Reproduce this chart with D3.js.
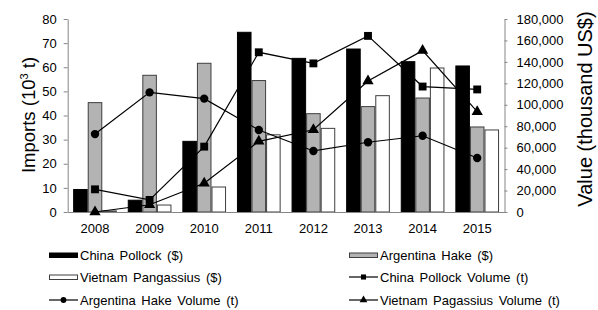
<!DOCTYPE html>
<html><head><meta charset="utf-8">
<script src="https://cdn.jsdelivr.net/npm/d3@7"></script>
<style>
body{margin:0;background:#fff}
svg{display:block}
text{font-family:"Liberation Sans",Arial,sans-serif;fill:#000}
</style>
</head><body><svg id="c" width="598" height="310"></svg>
<script>
const years = ["2008","2009","2010","2011","2012","2013","2014","2015"];
const chinaPollockValue = [21000, 11000, 65900, 167600, 143300, 152000, 140200, 136200];
const argentinaHakeValue = [102000, 127500, 138700, 122600, 91700, 98300, 106300, 79300];
const vietnamPangassiusValue = [1000, 6500, 23300, 72000, 78000, 108500, 134300, 76500];
const chinaPollockVolume = [9.4, 5.0, 27.1, 66.2, 61.6, 73.0, 52.0, 50.8];
const argentinaHakeVolume = [32.3, 49.6, 47.0, 34.0, 25.3, 28.9, 31.6, 22.4];
const vietnamPagassiusVolume = [0, 3.0, 11.9, 29.3, 34.1, 54.3, 66.9, 41.6];
const leftTicks = [0,10,20,30,40,50,60,70,80];
const rightTicks = [0,20000,40000,60000,80000,100000,120000,140000,160000,180000];
const barSeries = ["China Pollock ($)","Argentina Hake ($)","Vietnam Pangassius ($)"];
const lineSeries = ["China Pollock Volume (t)","Argentina Hake Volume (t)","Vietnam Pagassius Volume (t)"];

const svg = d3.select("#c");
const L = 67.7, R = 504.5, T = 19, B = 212;
const x = d3.scaleBand().domain(years).range([L, R]).paddingInner(0.2).paddingOuter(0.1);
const xs = d3.scaleBand().domain(barSeries).range([0, x.bandwidth()]);
const yL = d3.scaleLinear().domain([0, 80]).range([B, T]);
const yR = d3.scaleLinear().domain([0, 180000]).range([B, T]);
const axisColor = "#868686";

const barData = [chinaPollockValue, argentinaHakeValue, vietnamPangassiusValue];
const barFill = ["#000000", "#b3b3b3", "#ffffff"];
const barStroke = ["#000000", "#3f3f3f", "#3f3f3f"];

barSeries.forEach((s, i) => {
  svg.append("g").selectAll("rect").data(years).join("rect")
    .attr("x", d => x(d) + xs(s) + 0.5)
    .attr("width", xs.bandwidth() - 1)
    .attr("y", (d, j) => yR(barData[i][j]))
    .attr("height", (d, j) => B - yR(barData[i][j]))
    .attr("fill", barFill[i])
    .attr("stroke", barStroke[i])
    .attr("stroke-width", 1);
});

// axes
const gL = svg.append("g").attr("transform", `translate(${L},0)`)
  .call(d3.axisLeft(yL).tickValues(leftTicks).tickSize(4).tickSizeOuter(0).tickPadding(7));
const gR = svg.append("g").attr("transform", `translate(${R},0)`)
  .call(d3.axisRight(yR).tickValues(rightTicks).tickFormat(d3.format(",")).tickSize(3).tickSizeOuter(0).tickPadding(9));
[gL, gR].forEach(g => {
  g.select(".domain").attr("stroke", axisColor);
  g.selectAll(".tick line").attr("stroke", axisColor);
  g.selectAll(".tick text").attr("font-size", 13).attr("font-family", "Liberation Sans, Arial, sans-serif").attr("fill", "#000");
});
const gB = svg.append("g").attr("transform", `translate(0,${B})`)
  .call(d3.axisBottom(x).tickSize(0).tickSizeOuter(0).tickPadding(12));
gB.select(".domain").attr("stroke", axisColor);
gB.selectAll(".tick text").attr("font-size", 13).attr("font-family", "Liberation Sans, Arial, sans-serif").attr("fill", "#000");

// lines
const lineData = [chinaPollockVolume, argentinaHakeVolume, vietnamPagassiusVolume];
const markers = [d3.symbolSquare, d3.symbolCircle, d3.symbolTriangle];
const markerSize = [62, 55, 55];
const line = d3.line().x((d, j) => x(years[j]) + x.bandwidth() / 2).y(d => yL(d));
lineData.forEach((arr, i) => {
  svg.append("path").datum(arr).attr("d", line).attr("fill", "none").attr("stroke", "#000").attr("stroke-width", 1.2);
});
lineData.forEach((arr, i) => {
  svg.append("g").selectAll("path").data(arr).join("path")
    .attr("transform", (d, j) => `translate(${x(years[j]) + x.bandwidth() / 2},${yL(d)})`)
    .attr("d", d3.symbol(markers[i], markerSize[i]))
    .attr("fill", "#000");
});

// axis titles
const lt = svg.append("text").attr("transform", "translate(35,115) rotate(-90)")
  .attr("text-anchor", "middle").attr("font-size", 18.5);
lt.append("tspan").text("Imports (10");
lt.append("tspan").attr("font-size", 11).attr("dy", -7).text("3");
lt.append("tspan").attr("dy", 7).text(" t)");
svg.append("text").attr("transform", "translate(592,109) rotate(-90)")
  .attr("text-anchor", "middle").attr("font-size", 20).text("Value (thousand US$)");

// legend
const legendItems = [
  {name: barSeries[0], type: "bar", i: 0, col: 0, row: 0},
  {name: barSeries[1], type: "bar", i: 1, col: 1, row: 0},
  {name: barSeries[2], type: "bar", i: 2, col: 0, row: 1},
  {name: lineSeries[0], type: "line", i: 0, col: 1, row: 1},
  {name: lineSeries[1], type: "line", i: 1, col: 0, row: 2},
  {name: lineSeries[2], type: "line", i: 2, col: 1, row: 2}
];
const colX = [49, 349], rowY = [255, 277, 300];
legendItems.forEach(it => {
  const g = svg.append("g").attr("transform", `translate(${colX[it.col]},${rowY[it.row]})`);
  if (it.type === "bar") {
    g.append("rect").attr("x", 0.5).attr("y", -2).attr("width", 28).attr("height", 4.5)
      .attr("fill", barFill[it.i]).attr("stroke", barStroke[it.i]).attr("stroke-width", 1);
  } else {
    g.append("line").attr("x1", 0).attr("x2", 29).attr("y1", 0).attr("y2", 0).attr("stroke", "#000").attr("stroke-width", 1.2);
    g.append("path").attr("transform", "translate(14.5,0)").attr("d", d3.symbol(markers[it.i], 26)).attr("fill", "#000");
  }
  g.append("text").attr("x", 31).attr("y", 0).attr("dy", "0.35em").attr("font-size", 13)
    .attr("word-spacing", 2).text(it.name);
});
</script>
</body></html>
